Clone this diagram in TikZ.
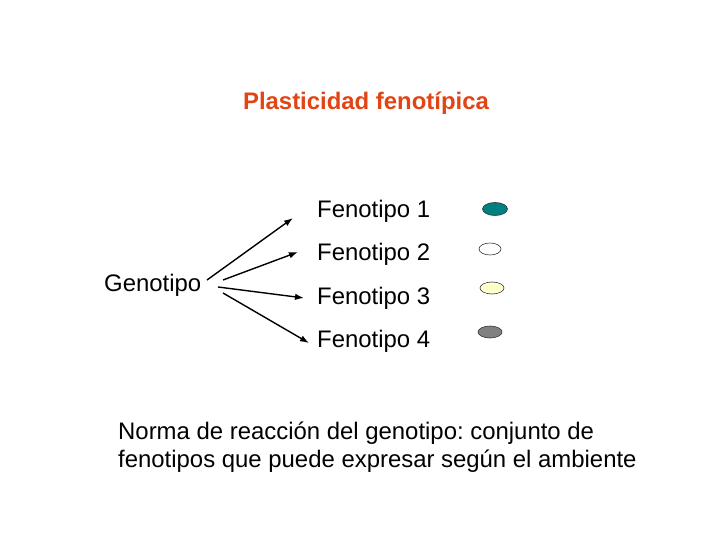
\documentclass[tikz,border=0pt]{standalone}
\usepackage{fontspec}
\setmainfont{Liberation Sans}
\usepackage{tikz}
\usetikzlibrary{shapes.geometric,arrows.meta}
\definecolor{titlered}{RGB}{226,68,20}
\definecolor{tealfill}{RGB}{0,128,128}
\definecolor{creamfill}{RGB}{255,255,204}
\definecolor{greyfill}{RGB}{128,128,128}
\frenchspacing

\begin{document}
\begin{tikzpicture}[x=1bp,y=-1bp,
    label/.style={anchor=base west,inner sep=0pt,font=\fontsize{24}{28}\selectfont},
    blob/.style={draw=black!80,line width=0.6bp,ellipse,minimum width=24bp,minimum height=12bp,inner sep=0pt},
    arr/.style={-{Latex[length=9bp,width=6.5bp]},line width=1.4bp}]
    \useasboundingbox (0,0) rectangle (720,540);
    \node[anchor=base,inner sep=0pt,text=titlered,font=\bfseries\fontsize{24}{28}\selectfont] (title) at (366,110) {Plasticidad fenotípica};
    \node[label] (gen) at (104,291) {Genotipo};
    \node[label] (f1) at (317,218) {Fenotipo 1};
    \node[label] (f2) at (317,261) {Fenotipo 2};
    \node[label] (f3) at (317,304) {Fenotipo 3};
    \node[label] (f4) at (317,347) {Fenotipo 4};
    \node[blob,fill=tealfill,minimum width=25bp,minimum height=13bp] (e1) at (495,209) {};
    \node[blob,fill=white,minimum width=22bp] (e2) at (490,249) {};
    \node[blob,fill=creamfill] (e3) at (492,288) {};
    \node[blob,fill=greyfill] (e4) at (490,332) {};
    % arrow ends
    \coordinate (t1) at (207,280);
    \coordinate (t2) at (223,280);
    \coordinate (t3) at (218,287);
    \coordinate (t4) at (223,293);
    \coordinate (h1) at (293,218);
    \coordinate (h2) at (298,252);
    \coordinate (h3) at (304,298);
    \coordinate (h4) at (309,343);
    \draw[arr] (t1) -- (h1);
    \draw[arr] (t2) -- (h2);
    \draw[arr] (t3) -- (h3);
    \draw[arr] (t4) -- (h4);
    \node[label,align=left] (norma) at (118,467) {Norma de reacción del genotipo: conjunto de\\fenotipos que puede expresar según el ambiente};
\end{tikzpicture}
\end{document}
